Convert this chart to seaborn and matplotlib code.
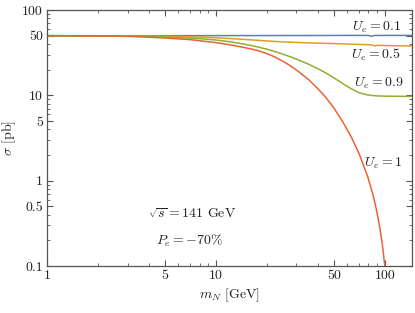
import numpy as np
import pandas as pd
import seaborn as sns
import matplotlib
matplotlib.use("Agg")
import matplotlib.pyplot as plt
from matplotlib.ticker import FixedLocator, FixedFormatter, LogLocator, NullFormatter

# heavy neutrino mass [GeV] and cross section [pb]
m_u01 = [1, 2, 5, 10, 20, 40, 60, 75, 80, 83.3, 87, 100, 145]
s_u01 = [50, 50, 50, 50.1, 50.2, 50.3, 50.4, 50.4, 50.3, 49.3, 50.3, 50.4, 50.4]

m_u05 = [1, 2, 3.16, 5, 7.94, 10, 12.6, 15.8, 20, 25.1, 31.6, 39.8, 50.1, 63.1, 79.4, 84, 87.6, 90, 100, 120, 145]
s_u05 = [50, 49.9, 49.7, 49.2, 48.2, 47.3, 46.1, 44.8, 43.4, 42.3, 41.5, 40.9, 40.4, 39.8, 39.2, 38.9, 37.9, 38.6, 38.4, 38.1, 37.9]

m_u09 = [1, 3.16, 5, 7.94, 10, 11.2, 12.6, 14.1, 15.8, 17.8, 20, 22.4, 25.1, 28.2, 31.6, 35.5, 39.8,
         44.7, 50.1, 56.2, 63.1, 70.8, 79.4, 89.1, 100, 145]
s_u09 = [50, 49.4, 48.3, 46.2, 44.5, 43.3, 41.9, 40.4, 38.7, 36.8, 34.8, 32.6, 30.2, 27.9, 25.5, 23.1, 20.7,
         18.3, 16.0, 13.8, 12.0, 10.7, 10.1, 9.85, 9.78, 9.71]

m_u1 = [1, 2, 3.16, 5, 7.08, 10, 12.6, 15.8, 17.8, 20, 22.4, 25.1, 28.2, 31.6, 35.5, 39.8, 44.7, 50.1,
        56.2, 63.1, 70.8, 79.4, 85.1, 89.1, 93.3, 96.6, 100, 102.3]
s_u1 = [50, 49.8, 49, 47, 44.9, 41.5, 38.6, 35.3, 33.4, 30.9, 28.1, 24.9, 21.6, 18.3, 15.2, 12.2, 9.51, 7.05,
        4.96, 3.30, 2.03, 1.10, 0.685, 0.466, 0.287, 0.183, 0.102, 0.06]

curve_labels = [r"$U_e = 0.1$", r"$U_e = 0.5$", r"$U_e = 0.9$", r"$U_e = 1$"]
colors = ["#5E81B5", "#E19C24", "#8FB032", "#EB6235"]

x_ticks = [1, 5, 10, 50, 100]
x_ticklabels = ["1", "5", "10", "50", "100"]
y_ticks = [0.1, 0.5, 1, 5, 10, 50, 100]
y_ticklabels = ["0.1", "0.5", "1", "5", "10", "50", "100"]


def main():
    sns.set_theme(style="ticks")
    plt.rcParams["font.family"] = ["cmr10", "DejaVu Serif"]
    plt.rcParams["mathtext.fontset"] = "cm"
    plt.rcParams["axes.unicode_minus"] = False

    fig = plt.figure(figsize=(4.15, 3.13), dpi=100)
    ax = fig.add_axes([0.1133, 0.1502, 0.8795, 0.8178])

    curves = [(m_u01, s_u01), (m_u05, s_u05), (m_u09, s_u09), (m_u1, s_u1)]
    for (m, s), c in zip(curves, colors):
        df = pd.DataFrame({"m": m, "sigma": s})
        sns.lineplot(data=df, x="m", y="sigma", color=c, linewidth=1.1, ax=ax, legend=False)

    ax.set(xscale="log", yscale="log", xlim=(1, 145), ylim=(0.1, 100))

    ax.xaxis.set_major_locator(FixedLocator(x_ticks))
    ax.xaxis.set_major_formatter(FixedFormatter(x_ticklabels))
    ax.yaxis.set_major_locator(FixedLocator(y_ticks))
    ax.yaxis.set_major_formatter(FixedFormatter(y_ticklabels))
    ax.xaxis.set_minor_locator(LogLocator(base=10, subs=np.arange(2, 10)))
    ax.yaxis.set_minor_locator(LogLocator(base=10, subs=np.arange(2, 10)))
    ax.xaxis.set_minor_formatter(NullFormatter())
    ax.yaxis.set_minor_formatter(NullFormatter())

    frame = "#555555"
    for sp in ax.spines.values():
        sp.set_visible(True)
        sp.set_color(frame)
        sp.set_linewidth(0.9)
    ax.tick_params(which="both", direction="in", top=True, right=True, color=frame,
                   labelcolor="#222222", labelsize=10, pad=3)
    ax.tick_params(which="major", length=4.5, width=0.8)
    ax.tick_params(which="minor", length=2.2, width=0.6)

    ax.set_xlabel(r"$m_N$ [GeV]", fontsize=10, color="#222222", labelpad=3)
    ax.set_ylabel(r"$\sigma$ [pb]", fontsize=10, color="#222222", labelpad=3)

    label_pos = [(0.970, 0.934), (0.970, 0.824), (0.978, 0.715), (0.973, 0.402)]
    for txt, (px, py) in zip(curve_labels, label_pos):
        ax.text(px, py, txt, transform=ax.transAxes, ha="right", va="center",
                fontsize=10, color="#222222")

    ax.text(0.397, 0.203, r"$\sqrt{s} = 141$ GeV", transform=ax.transAxes,
            ha="center", va="center", fontsize=10, color="#222222")
    ax.text(0.392, 0.099, r"$P_e = -70\%$", transform=ax.transAxes,
            ha="center", va="center", fontsize=10, color="#222222")

    fig.savefig("out.png", dpi=100)


if __name__ == "__main__":
    main()
